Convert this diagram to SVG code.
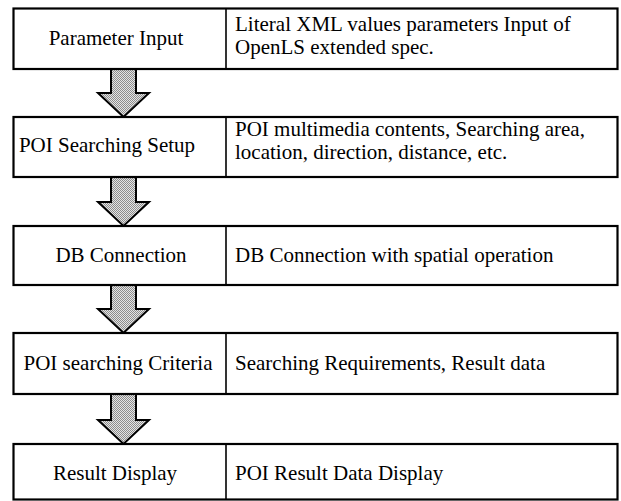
<svg xmlns="http://www.w3.org/2000/svg" width="621" height="501" viewBox="0 0 621 501">
<defs>
<pattern id="dots" width="2" height="2" patternUnits="userSpaceOnUse">
<rect width="2" height="2" fill="#e4e4e4"/>
<rect x="0" y="0" width="1" height="1" fill="#8c8c8c"/>
<rect x="1" y="1" width="1" height="1" fill="#8c8c8c"/>
</pattern>
</defs>
<style>
.box{fill:#fff;stroke:#000;stroke-width:2.2}
.div{stroke:#000;stroke-width:1.6}
.lbl{font-family:"Liberation Serif","Times New Roman",serif;font-size:21px;fill:#000}
.mid{text-anchor:middle}
.arr{fill:url(#dots);stroke:#000;stroke-width:2;stroke-linejoin:miter}
</style>
<rect width="621" height="501" fill="#fff"/>
<g id="connectors">
<path class="arr" d="M111,68 L111,93 L98,93 L123.5,117 L149,93 L136,93 L136,68 Z"/>
<path class="arr" d="M111,177 L111,202 L98,202 L123.5,226 L149,202 L136,202 L136,177 Z"/>
<path class="arr" d="M111,285 L111,309 L98,309 L123.5,333 L149,309 L136,309 L136,285 Z"/>
<path class="arr" d="M111,394 L111,420 L98,420 L123.5,444 L149,420 L136,420 L136,394 Z"/>
</g>
<g id="parameter-input">
<rect class="box" x="13.5" y="8.5" width="604" height="60.5"/>
<line class="div" x1="226" y1="8.5" x2="226" y2="69"/>
<text class="lbl mid" x="116" y="45">Parameter Input</text>
<text class="lbl" x="235" y="31">Literal XML values parameters Input of</text>
<text class="lbl" x="235" y="54">OpenLS extended spec.</text>
</g>
<g id="poi-searching-setup">
<rect class="box" x="13.5" y="117" width="604" height="60"/>
<line class="div" x1="226" y1="117" x2="226" y2="177"/>
<text class="lbl mid" x="107" y="152">POI Searching Setup</text>
<text class="lbl" x="235" y="136">POI multimedia contents, Searching area,</text>
<text class="lbl" x="235" y="159">location, direction, distance, etc.</text>
</g>
<g id="db-connection">
<rect class="box" x="13.5" y="226" width="604" height="59"/>
<line class="div" x1="226" y1="226" x2="226" y2="285"/>
<text class="lbl mid" x="121" y="262">DB Connection</text>
<text class="lbl" x="235" y="262">DB Connection with spatial operation</text>
</g>
<g id="poi-searching-criteria">
<rect class="box" x="13.5" y="333" width="604" height="61"/>
<line class="div" x1="226" y1="333" x2="226" y2="394"/>
<text class="lbl mid" x="118" y="370">POI searching Criteria</text>
<text class="lbl" x="235" y="370">Searching Requirements, Result data</text>
</g>
<g id="result-display">
<rect class="box" x="13.5" y="444" width="604" height="55.5"/>
<line class="div" x1="226" y1="444" x2="226" y2="499.5"/>
<text class="lbl mid" x="115" y="480">Result Display</text>
<text class="lbl" x="235" y="480">POI Result Data Display</text>
</g>
</svg>
